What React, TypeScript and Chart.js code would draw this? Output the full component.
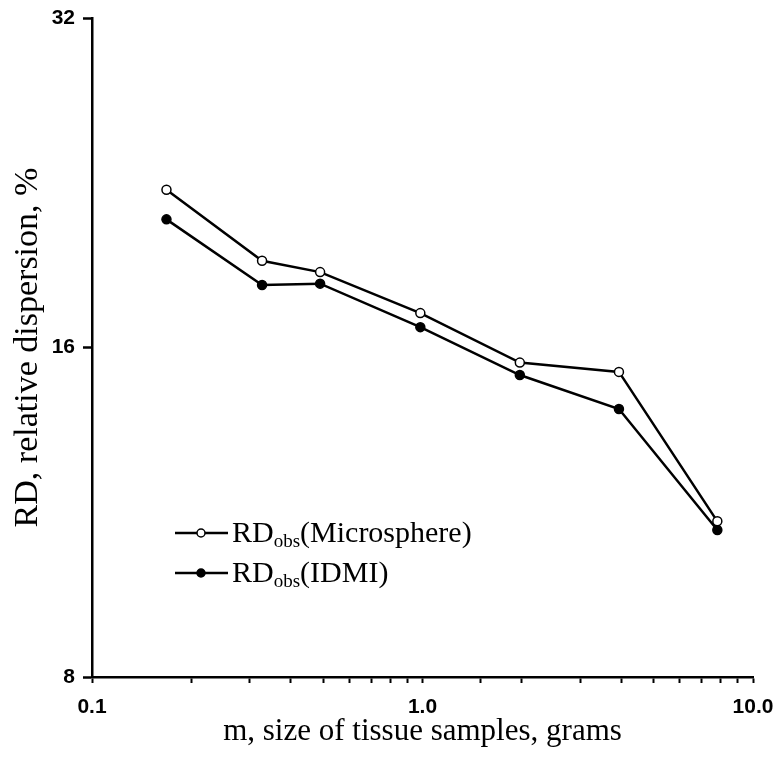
import React, { useEffect, useRef } from "react";
import { Chart, registerables } from "chart.js";

Chart.register(...registerables);

const sampleSizes = [0.168, 0.327, 0.49, 0.985, 1.97, 3.93, 7.8];
const microsphereRD = [22.3, 19.2, 18.75, 17.2, 15.5, 15.2, 11.1];
const idmiRD = [20.95, 18.25, 18.3, 16.7, 15.1, 14.06, 10.9];
const yTickValues = [8, 16, 32];
const xLabelValues = [0.1, 1, 10];
const xLabelText = ["0.1", "1.0", "10.0"];
const legendLabels = ["(Microsphere)", "(IDMI)"];

const SERIF = "'Liberation Serif', 'Times New Roman', serif";
const SANS = "'Liberation Sans', Arial, sans-serif";

const legendPlugin = {
  id: "customLegend",
  afterDraw(chart: any) {
    const ctx = chart.ctx;
    const rows = [
      { y: 533, fill: "#ffffff", label: legendLabels[0] },
      { y: 573, fill: "#000000", label: legendLabels[1] },
    ];
    ctx.save();
    rows.forEach((r) => {
      ctx.strokeStyle = "#000";
      ctx.lineWidth = 2.5;
      ctx.beginPath();
      ctx.moveTo(175, r.y);
      ctx.lineTo(228, r.y);
      ctx.stroke();
      ctx.beginPath();
      ctx.arc(201, r.y, 4, 0, Math.PI * 2);
      ctx.fillStyle = r.fill;
      ctx.fill();
      ctx.lineWidth = 1.5;
      ctx.stroke();
      ctx.fillStyle = "#000";
      ctx.textBaseline = "alphabetic";
      ctx.font = `30px ${SERIF}`;
      let x = 232;
      ctx.fillText("RD", x, r.y + 9);
      x += ctx.measureText("RD").width;
      ctx.font = `19px ${SERIF}`;
      ctx.fillText("obs", x, r.y + 14);
      x += ctx.measureText("obs").width;
      ctx.font = `30px ${SERIF}`;
      ctx.fillText(r.label, x, r.y + 9);
    });
    ctx.restore();
  },
};

export default function App() {
  const ref = useRef<HTMLCanvasElement>(null);
  useEffect(() => {
    if (!ref.current) return;
    const chart = new Chart(ref.current, {
      type: "line",
      data: {
        datasets: [
          {
            label: "RDobs(Microsphere)",
            data: sampleSizes.map((x, i) => ({ x, y: microsphereRD[i] })),
            borderColor: "#000",
            borderWidth: 2.5,
            pointRadius: 4.5,
            pointBackgroundColor: "#fff",
            pointBorderColor: "#000",
            pointBorderWidth: 1.5,
            tension: 0,
          },
          {
            label: "RDobs(IDMI)",
            data: sampleSizes.map((x, i) => ({ x, y: idmiRD[i] })),
            borderColor: "#000",
            borderWidth: 2.5,
            pointRadius: 4.5,
            pointBackgroundColor: "#000",
            pointBorderColor: "#000",
            pointBorderWidth: 1.5,
            tension: 0,
          },
        ],
      },
      options: {
        responsive: false,
        animation: false,
        layout: { padding: { top: 18, right: 28, left: 0, bottom: 0 } },
        plugins: { legend: { display: false }, tooltip: { enabled: false } },
        scales: {
          x: {
            type: "logarithmic",
            min: 0.1,
            max: 10,
            afterFit: (s: any) => {
              s.height = 81;
              s.paddingRight = 0;
              s.paddingLeft = 0;
            },
            border: { display: true, color: "#000", width: 2.5 },
            grid: {
              drawOnChartArea: false,
              drawTicks: true,
              tickLength: 6,
              tickWidth: 2,
              tickColor: "#000",
            },
            ticks: {
              autoSkip: false,
              maxRotation: 0,
              padding: 12,
              color: "#000",
              font: { family: SANS, size: 21, weight: "bold" },
              callback: (v: any) => {
                const idx = xLabelValues.findIndex((t) => Math.abs(t - v) < 1e-9);
                return idx >= 0 ? xLabelText[idx] : "";
              },
            },
            title: {
              display: true,
              text: "m, size of tissue samples, grams",
              color: "#000",
              font: { family: SERIF, size: 31 },
              padding: { top: 0, bottom: 8 },
            },
          },
          y: {
            type: "logarithmic",
            min: 8,
            max: 32,
            afterBuildTicks: (s: any) => {
              s.ticks = yTickValues.map((v) => ({ value: v }));
            },
            afterFit: (s: any) => {
              s.width = 92;
              s.paddingTop = 0;
              s.paddingBottom = 0;
            },
            border: { display: true, color: "#000", width: 2.5 },
            grid: {
              drawOnChartArea: false,
              drawTicks: true,
              tickLength: 9,
              tickWidth: 2.5,
              tickColor: "#000",
            },
            ticks: {
              padding: 8,
              color: "#000",
              font: { family: SANS, size: 21, weight: "bold" },
              callback: (v: any) => String(v),
            },
            title: {
              display: true,
              text: "RD, relative dispersion, %",
              color: "#000",
              font: { family: SERIF, size: 34 },
              padding: { top: 8, bottom: 0 },
            },
          },
        },
      },
      plugins: [legendPlugin],
    });
    return () => chart.destroy();
  }, []);
  return (
    <div style={{ position: "absolute", left: 0, top: 0, width: 781, height: 758, background: "#fff" }}>
      <canvas ref={ref} width={781} height={758} style={{ width: 781, height: 758 }} />
    </div>
  );
}
